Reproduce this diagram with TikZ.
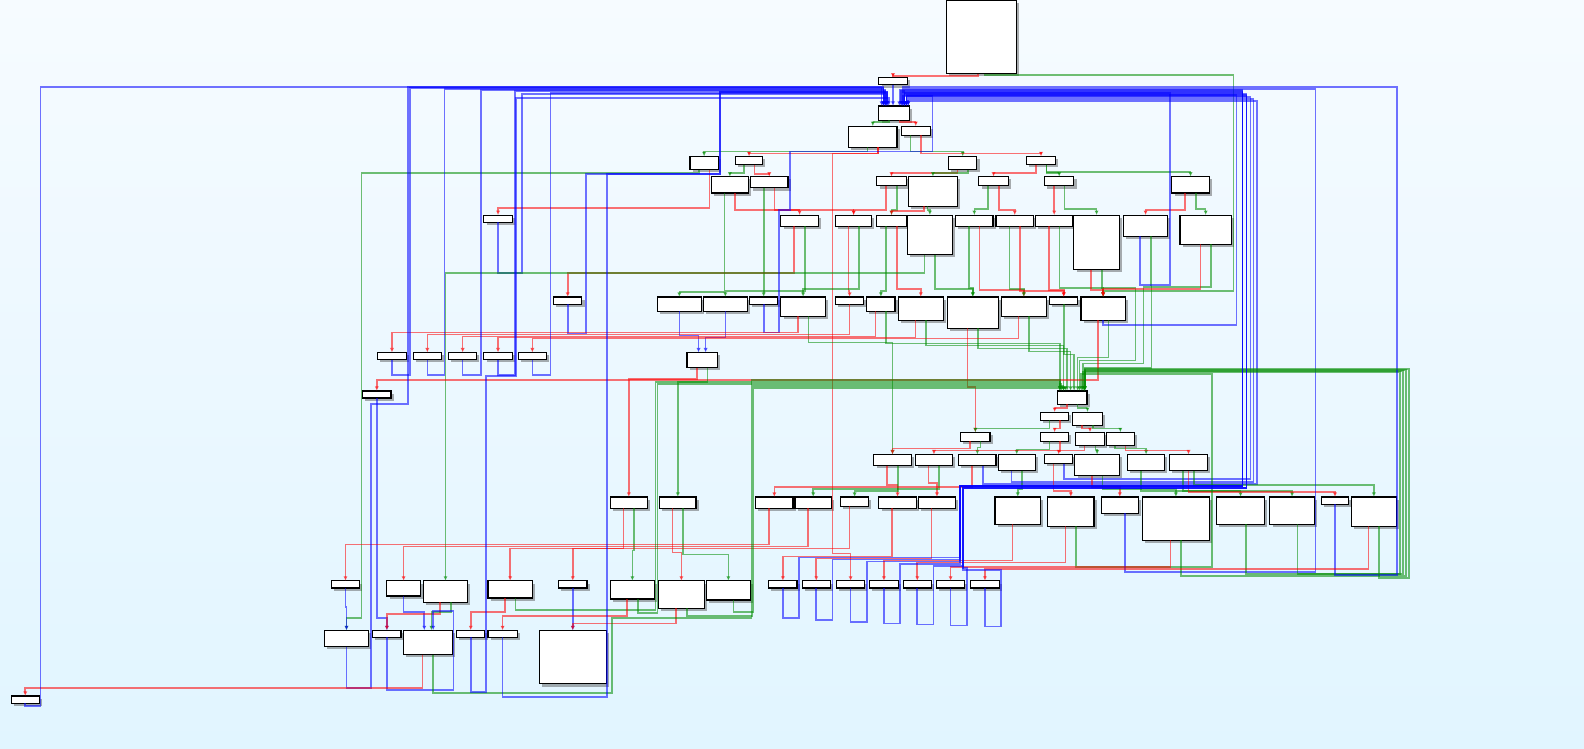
\documentclass[tikz,border=0pt]{standalone}
\usepackage{xcolor}
\usepackage{tikz}
\usetikzlibrary{arrows.meta,fit,shadows}

\definecolor{bgtop}{RGB}{246,251,255}
\definecolor{bgbot}{RGB}{225,245,255}
\definecolor{brfalse}{RGB}{255,0,0}
\definecolor{brtrue}{RGB}{0,140,0}
\definecolor{brjump}{RGB}{0,0,255}

\begin{document}
\begin{tikzpicture}[
    x=0.02cm, y=-0.02cm,
    blk/.style={
        draw,
        fill=white,
        line width=0.65pt,
        inner sep=0pt,
        outer sep=0pt,
        drop shadow={shadow xshift=1.5pt, shadow yshift=-1.5pt, opacity=0.45, fill=black!70}
    },
    br/.style={
        line width=0.9pt,
        opacity=0.55,
        -{Latex[length=2.6pt,width=2.4pt]}
    },
    tf/.style={br, draw=brfalse},
    tt/.style={br, draw=brtrue},
    tu/.style={br, draw=brjump}
]

\useasboundingbox (0,0) rectangle (1568,741);
\fill[top color=bgtop, bottom color=bgbot] (0,0) rectangle (1568,741);

%---------------------------------------------------------------------
% Blocks
%---------------------------------------------------------------------

\node[blk, fit={(937,0) (1006,73)}] (a0) {};
\node[blk, fit={(870,77) (898,84)}] (a1) {};
\node[blk, fit={(870,105) (900,119)}] (a2) {};
\node[blk, fit={(840,125) (888,146)}] (a3) {};
\node[blk, fit={(892,125) (921,134)}] (a4) {};

\node[blk, fit={(683,155) (711,168)}] (b1) {};
\node[blk, fit={(728,155) (755,163)}] (b2) {};
\node[blk, fit={(939,155) (967,168)}] (b3) {};
\node[blk, fit={(1016,155) (1045,163)}] (b4) {};

\node[blk, fit={(704,175) (741,191)}] (c1) {};
\node[blk, fit={(743,175) (780,186)}] (c2) {};
\node[blk, fit={(868,175) (897,184)}] (c3) {};
\node[blk, fit={(899,175) (948,204)}] (c4) {};
\node[blk, fit={(969,175) (998,184)}] (c5) {};
\node[blk, fit={(1034,175) (1063,184)}] (c6) {};
\node[blk, fit={(1160,175) (1197,191)}] (c7) {};

\node[blk, fit={(479,213) (507,220)}] (d1) {};
\node[blk, fit={(773,213) (810,224)}] (d2) {};
\node[blk, fit={(827,213) (863,224)}] (d3) {};
\node[blk, fit={(868,213) (897,224)}] (d4) {};
\node[blk, fit={(898,213) (943,252)}] (d5) {};
\node[blk, fit={(946,213) (983,224)}] (d6) {};
\node[blk, fit={(986,213) (1023,224)}] (d7) {};
\node[blk, fit={(1025,213) (1062,224)}] (d8) {};
\node[blk, fit={(1063,213) (1108,267)}] (d9) {};
\node[blk, fit={(1112,213) (1156,234)}] (d10) {};
\node[blk, fit={(1168,213) (1219,242)}] (d11) {};

\node[blk, fit={(548,294) (576,301)}] (e1) {};
\node[blk, fit={(651,294) (694,308)}] (e2) {};
\node[blk, fit={(696,294) (740,308)}] (e3) {};
\node[blk, fit={(742,294) (770,301)}] (e4) {};
\node[blk, fit={(773,294) (817,313)}] (e5) {};
\node[blk, fit={(827,294) (855,301)}] (e6) {};
\node[blk, fit={(858,294) (886,308)}] (e7) {};
\node[blk, fit={(889,294) (934,317)}] (e8) {};
\node[blk, fit={(938,294) (988,325)}] (e9) {};
\node[blk, fit={(991,294) (1036,313)}] (e10) {};
\node[blk, fit={(1039,294) (1067,301)}] (e11) {};
\node[blk, fit={(1070,294) (1114,317)}] (e12) {};

\node[blk, fit={(374,349) (402,356)}] (f1) {};
\node[blk, fit={(409,349) (437,356)}] (f2) {};
\node[blk, fit={(444,349) (472,356)}] (f3) {};
\node[blk, fit={(479,349) (507,356)}] (f4) {};
\node[blk, fit={(513,349) (541,356)}] (f5) {};
\node[blk, fit={(680,349) (710,364)}] (f6) {};
\node[blk, fit={(359,387) (387,394)}] (g1) {};

\node[blk, fit={(1047,387) (1076,400)}] (h1) {};
\node[blk, fit={(1030,408) (1058,416)}] (h2) {};
\node[blk, fit={(1062,408) (1091,421)}] (h3) {};
\node[blk, fit={(951,428) (980,437)}] (h4) {};
\node[blk, fit={(1030,428) (1058,437)}] (h5) {};
\node[blk, fit={(1065,428) (1093,441)}] (h6) {};
\node[blk, fit={(1095,428) (1123,441)}] (h7) {};

\node[blk, fit={(865,450) (902,461)}] (i1) {};
\node[blk, fit={(906,450) (943,461)}] (i2) {};
\node[blk, fit={(949,450) (986,461)}] (i3) {};
\node[blk, fit={(988,450) (1025,466)}] (i4) {};
\node[blk, fit={(1034,450) (1062,459)}] (i5) {};
\node[blk, fit={(1064,450) (1108,471)}] (i6) {};
\node[blk, fit={(1116,450) (1153,466)}] (i7) {};
\node[blk, fit={(1158,450) (1195,466)}] (i8) {};

\node[blk, fit={(604,492) (641,503)}] (j1) {};
\node[blk, fit={(653,492) (689,503)}] (j2) {};
\node[blk, fit={(748,492) (785,503)}] (j3) {};
\node[blk, fit={(787,492) (823,503)}] (j4) {};
\node[blk, fit={(832,492) (860,501)}] (j5) {};
\node[blk, fit={(870,492) (907,503)}] (j6) {};
\node[blk, fit={(909,492) (946,503)}] (j7) {};
\node[blk, fit={(985,492) (1030,519)}] (j8) {};
\node[blk, fit={(1037,492) (1083,521)}] (j9) {};
\node[blk, fit={(1090,492) (1127,508)}] (j10) {};
\node[blk, fit={(1131,492) (1197,535)}] (j11) {};
\node[blk, fit={(1204,492) (1252,519)}] (j12) {};
\node[blk, fit={(1257,492) (1301,519)}] (j13) {};
\node[blk, fit={(1308,492) (1335,499)}] (j14) {};
\node[blk, fit={(1338,492) (1382,521)}] (j15) {};

\node[blk, fit={(328,575) (356,582)}] (k1) {};
\node[blk, fit={(383,575) (416,590)}] (k2) {};
\node[blk, fit={(419,575) (463,596)}] (k3) {};
\node[blk, fit={(483,575) (527,592)}] (k4) {};
\node[blk, fit={(553,575) (581,582)}] (k5) {};
\node[blk, fit={(604,575) (648,593)}] (k6) {};
\node[blk, fit={(652,575) (697,602)}] (k7) {};
\node[blk, fit={(699,575) (743,594)}] (k8) {};
\node[blk, fit={(761,575) (789,582)}] (k9) {};
\node[blk, fit={(794,575) (822,582)}] (k10) {};
\node[blk, fit={(828,575) (856,582)}] (k11) {};
\node[blk, fit={(861,575) (889,582)}] (k12) {};
\node[blk, fit={(894,575) (922,582)}] (k13) {};
\node[blk, fit={(927,575) (955,582)}] (k14) {};
\node[blk, fit={(961,575) (989,582)}] (k15) {};

\node[blk, fit={(321,624) (365,640)}] (l1) {};
\node[blk, fit={(369,624) (397,631)}] (l2) {};
\node[blk, fit={(399,624) (448,648)}] (l3) {};
\node[blk, fit={(452,624) (480,631)}] (l4) {};
\node[blk, fit={(483,624) (512,631)}] (l5) {};
\node[blk, fit={(534,624) (600,677)}] (l6) {};
\node[blk, fit={(11,689) (39,696)}] (m1) {};

%---------------------------------------------------------------------
% Head of the loop
%---------------------------------------------------------------------

\draw[tf] ([xshift=-2pt]a0.south) -- ++(0,2) -| (a1.north);
\draw[tt] ([xshift=2pt]a0.south) -- ++(0,1) -| (1221,288) -| (e12.north);
\draw[tu] (a1.south) -- (a1.south |- a2.north);
\draw[tt] ([xshift=-3pt]a2.south) -- ++(0,2) -| (a3.north);
\draw[tf] ([xshift=3pt]a2.south) -- ++(0,2) -| (a4.north);
\draw[tt] ([xshift=-3pt]a3.south) -- ++(0,4) -| (b1.north);
\draw[tf] ([xshift=3pt]a3.south) -- ++(0,6) -| (b2.north);
\draw[tf] ([xshift=3pt]a3.south) -- ++(0,6) -| (824,548) -| (k11.north);
\draw[tt] ([xshift=-3pt]a4.south) -- ++(0,16) -| (b3.north);
\draw[tf] ([xshift=3pt]a4.south) -- ++(0,18) -| (b4.north);

\draw[tt] ([xshift=-3pt]b1.south) -- ++(0,3) -| (358,612) -| (l1.north);
\draw[tf] ([xshift=3pt]b1.south) -- ++(0,38) -| (d1.north);
\draw[tt] ([xshift=-3pt]b2.south) -- ++(0,8) -| (c1.north);
\draw[tf] ([xshift=3pt]b2.south) -- ++(0,9) -| (c2.north);
\draw[tf] ([xshift=-3pt]b3.south) -- ++(0,3) -| (c3.north);
\draw[tt] ([xshift=3pt]b3.south) -- ++(0,3) -| (c4.north);
\draw[tf] ([xshift=-3pt]b4.south) -- ++(0,8) -| (c5.north);
\draw[tt] ([xshift=3pt]b4.south) -- ++(0,8) -| (c6.north);
\draw[tt] ([xshift=3pt]b4.south) -- ++(0,7) -| (c7.north);

%---------------------------------------------------------------------
% Upper switch
%---------------------------------------------------------------------

\draw[tt] ([xshift=-3pt]c1.south) -- ++(0,98) -| (e2.north);
\draw[tf] ([xshift=3pt]c1.south) -- ++(0,17) -| (d2.north);
\draw[tf] ([xshift=3pt]c2.south) -- ++(0,22) -| (d3.north);
\draw[tt] ([xshift=-3pt]c2.south) -- ++(0,20) -| (e4.north);
\draw[tf] ([xshift=-3pt]c3.south) -- ++(0,24) -| (d3.north);
\draw[tt] ([xshift=3pt]c3.south) -- ++(0,24) -| (d4.north);
\draw[tt] ([xshift=-3pt]c4.south) -- ++(0,4) -| (d5.north);
\draw[tf] ([xshift=-5pt]c4.south) -- ++(0,5) -| (d4.north);
\draw[tt] ([xshift=-3pt]c5.south) -- ++(0,23) -| (d6.north);
\draw[tf] ([xshift=3pt]c5.south) -- ++(0,24) -| (d7.north);
\draw[tf] ([xshift=-3pt]c6.south) -- ++(0,23) -| (d8.north);
\draw[tt] ([xshift=3pt]c6.south) -- ++(0,23) -| (d9.north);
\draw[tf] ([xshift=-3pt]c7.south) -- ++(0,17) -| (d10.north);
\draw[tt] ([xshift=3pt]c7.south) -- ++(0,16) -| (d11.north);

\draw[tu] (d1.south) -- ++(0,50) -| (517,93) -| ([xshift=-5pt]a2.north);
\draw[tf] ([xshift=-3pt]d2.south) -- ++(0,46) -| (e1.north);
\draw[tt] ([xshift=3pt]d2.south) -- ++(0,64) -| (e3.north);
\draw[tf] ([xshift=-3pt]d3.south) -- ++(0,64) -| (e6.north);
\draw[tt] ([xshift=3pt]d3.south) -- ++(0,62) -| (e5.north);
\draw[tt] ([xshift=-3pt]d4.south) -- ++(0,64) -| (e7.north);
\draw[tf] ([xshift=3pt]d4.south) -- ++(0,62) -| (e8.north);
\draw[tt] ([xshift=3pt]d5.south) -- ++(0,34) -| (e9.north);
\draw[tt] ([xshift=-3pt]d5.south) -- ++(0,18) -| (k3.north);
\draw[tf] ([xshift=3pt]d6.south) -- ++(0,63) -| (e10.north);
\draw[tt] ([xshift=-3pt]d6.south) -- ++(0,61) -| (e9.north);
\draw[tt] ([xshift=-3pt]d7.south) -- ++(0,62) -| (e10.north);
\draw[tf] ([xshift=3pt]d7.south) -- ++(0,64) -| (e11.north);
\draw[tf] ([xshift=-3pt]d8.south) -- ++(0,63) -| (e11.north);
\draw[tt] ([xshift=3pt]d8.south) -- ++(0,61) -| (e12.north);
\draw[tf] ([xshift=-3pt]d9.south) -- ++(0,20) -| (e12.north);
\draw[tt] ([xshift=3pt]d9.south) -- ++(0,18) -| (1124,357) -| ([xshift=4pt]h1.north);
\draw[tt] ([xshift=3pt]d10.south) -- ++(0,50) -| (1132,360) -| ([xshift=6pt]h1.north);
\draw[tu] ([xshift=-3pt]d10.south) -- ++(0,48) -| (1158,92) -| ([xshift=6pt]a2.north);
\draw[tt] ([xshift=3pt]d11.south) -- ++(0,42) -| (1140,364) -| ([xshift=7pt]h1.north);
\draw[tf] ([xshift=-3pt]d11.south) -- ++(0,44) -| (e12.north);

%---------------------------------------------------------------------
% Middle row and the short loops on the left
%---------------------------------------------------------------------

\draw[tu] (e1.south) -- ++(0,29) -| (580,172) -| (713,91) -| ([xshift=-4pt]a2.north);
\draw[tu] (e2.south) -- ++(0,24) -| ([xshift=-2pt]f6.north);
\draw[tu] (e3.south) -- ++(0,26) -| ([xshift=2pt]f6.north);
\draw[tu] (e4.south) -- ++(0,28) -| (771,208) -| (782,150) -| (923,95) -| ([xshift=5pt]a2.north);
\draw[tf] ([xshift=-3pt]e5.south) -- ++(0,16) -| (f1.north);
\draw[tt] ([xshift=3pt]e5.south) -- ++(0,26) -| (i1.north);
\draw[tf] (e6.south) -- ++(0,30) -| (f2.north);
\draw[tf] ([xshift=-3pt]e7.south) -- ++(0,25) -| (f3.north);
\draw[tt] ([xshift=3pt]e7.south) -- ++(0,32) -| ([xshift=-7pt]h1.north);
\draw[tf] ([xshift=-3pt]e8.south) -- ++(0,17) -| (f4.north);
\draw[tt] ([xshift=3pt]e8.south) -- ++(0,25) -| ([xshift=-5pt]h1.north);
\draw[tt] ([xshift=3pt]e9.south) -- ++(0,20) -| ([xshift=-3pt]h1.north);
\draw[tf] ([xshift=-3pt]e9.south) -- ++(0,58) -| (h4.north);
\draw[tf] ([xshift=-3pt]e10.south) -- ++(0,22) -| (f5.north);
\draw[tt] ([xshift=3pt]e10.south) -- ++(0,35) -| ([xshift=-1pt]h1.north);
\draw[tt] (e11.south) -- ++(0,50) -| ([xshift=1pt]h1.north);
\draw[tf] ([xshift=-3pt]e12.south) -- ++(0,59) -| (g1.north);
\draw[tt] ([xshift=3pt]e12.south) -- ++(0,37) -| ([xshift=3pt]h1.north);
\draw[tu] (e12.south) -- ++(0,5) -| (1224,94) -| ([xshift=7pt]a2.north);

\draw[tu] (f1.south) -- ++(0,15) -| (406,87) -| ([xshift=-6pt]a2.north);
\draw[tu] (f2.south) -- ++(0,15) -| (440,88) -| ([xshift=-6pt]a2.north);
\draw[tu] (f3.south) -- ++(0,15) -| (476,89) -| ([xshift=-5pt]a2.north);
\draw[tu] (f4.south) -- ++(0,15) -| (510,90) -| ([xshift=-5pt]a2.north);
\draw[tu] (f5.south) -- ++(0,15) -| (545,92) -| ([xshift=-4pt]a2.north);
\draw[tf] ([xshift=-3pt]f6.south) -- ++(0,11) -| (j1.north);
\draw[tt] ([xshift=3pt]f6.south) -- ++(0,14) -| (j2.north);
\draw[tu] (g1.south) -- ++(0,218) -| (l2.north);

%---------------------------------------------------------------------
% Inner loop
%---------------------------------------------------------------------

\draw[tf] ([xshift=-3pt]h1.south) -- ++(0,4) -| (h2.north);
\draw[tt] ([xshift=3pt]h1.south) -- ++(0,4) -| (h3.north);
\draw[tt] ([xshift=-3pt]h2.south) -- ++(0,8) -| (h4.north);
\draw[tf] ([xshift=3pt]h2.south) -- ++(0,8) -| (h5.north);
\draw[tf] ([xshift=-3pt]h3.south) -- ++(0,3) -| (h6.north);
\draw[tt] ([xshift=3pt]h3.south) -- ++(0,3) -| (h7.north);
\draw[tf] ([xshift=-3pt]h4.south) -- ++(0,7) -| (i1.north);
\draw[tt] ([xshift=3pt]h4.south) -- ++(0,6) -| (i3.north);
\draw[tt] ([xshift=-3pt]h5.south) -- ++(0,8) -| (i4.north);
\draw[tf] ([xshift=3pt]h5.south) -- ++(0,10) -| (i5.north);
\draw[tf] ([xshift=-3pt]h6.south) -- ++(0,5) -| (i2.north);
\draw[tt] ([xshift=3pt]h6.south) -- ++(0,4) -| (i6.north);
\draw[tt] ([xshift=-3pt]h7.south) -- ++(0,3) -| (i7.north);
\draw[tf] ([xshift=3pt]h7.south) -- ++(0,5) -| (i8.north);

\draw[tf] ([xshift=-3pt]i1.south) -- ++(0,19) -| (j6.north);
\draw[tt] ([xshift=3pt]i1.south) -- ++(0,25) -| (j5.north);
\draw[tf] ([xshift=-3pt]i2.south) -- ++(0,17) -| (j7.north);
\draw[tt] ([xshift=3pt]i2.south) -- ++(0,23) -| (j4.north);
\draw[tf] ([xshift=-3pt]i3.south) -- ++(0,21) -| (j3.north);
\draw[tu] ([xshift=3pt]i3.south) -- ++(0,18) -| (1244,100) -| ([xshift=8pt]a2.north);
\draw[tt] ([xshift=3pt]i4.south) -- ++(0,18) -| (j8.north);
\draw[tu] ([xshift=-3pt]i4.south) -- ++(0,11) -| (1241,98) -| ([xshift=8pt]a2.north);
\draw[tf] ([xshift=-3pt]i5.south) -- ++(0,27) -| (j9.north);
\draw[tu] ([xshift=3pt]i5.south) -- ++(0,15) -| (1238,96) -| ([xshift=7pt]a2.north);
\draw[tf] ([xshift=-3pt]i6.south) -- ++(0,11) -| (j10.north);
\draw[tt] ([xshift=3pt]i6.south) -- ++(0,13) -| (j11.north);
\draw[tt] ([xshift=-3pt]i7.south) -- ++(0,20) -| (j12.north);
\draw[tt] ([xshift=-3pt]i8.south) -- ++(0,20) -| (j13.north);
\draw[tf] (i8.south) -- ++(0,21) -| (j14.north);
\draw[tt] ([xshift=3pt]i8.south) -- ++(0,14) -| (j15.north);

%---------------------------------------------------------------------
% Lower switch
%---------------------------------------------------------------------

\draw[tf] ([xshift=-3pt]j1.south) -- ++(0,40) -| (k5.north);
\draw[tt] ([xshift=3pt]j1.south) -- ++(0,42) -| (k6.north);
\draw[tf] ([xshift=-3pt]j2.south) -- ++(0,44) -| (k7.north);
\draw[tt] ([xshift=3pt]j2.south) -- ++(0,46) -| (k8.north);
\draw[tf] ([xshift=-3pt]j3.south) -- ++(0,36) -| (k1.north);
\draw[tf] ([xshift=-3pt]j4.south) -- ++(0,38) -| (k2.north);
\draw[tf] ([xshift=-3pt]j5.south) -- ++(0,42) -| (k4.north);
\draw[tf] ([xshift=-3pt]j6.south) -- ++(0,48) -| (k9.north);
\draw[tf] ([xshift=-3pt]j7.south) -- ++(0,50) -| (k10.north);
\draw[tf] ([xshift=-3pt]j8.south) -- ++(0,36) -| (k12.north);
\draw[tf] ([xshift=-3pt]j9.south) -- ++(0,36) -| (k13.north);
\draw[tt] ([xshift=3pt]j9.south) -- ++(0,40) -| (1200,370) -| ([xshift=5pt]h1.north);
\draw[tu] ([xshift=3pt]j10.south) -- ++(0,58) -| (1302,88) -| ([xshift=6pt]a2.north);
\draw[tf] ([xshift=-3pt]j11.south) -- ++(0,26) -| (k14.north);
\draw[tt] ([xshift=3pt]j11.south) -- ++(0,35) -| (1392,366) -| ([xshift=7pt]h1.north);
\draw[tt] ([xshift=3pt]j12.south) -- ++(0,49) -| (1389,367) -| ([xshift=7pt]h1.north);
\draw[tt] ([xshift=3pt]j13.south) -- ++(0,49) -| (1386,368) -| ([xshift=6pt]h1.north);
\draw[tu] (j14.south) -- ++(0,70) -| (1383,86) -| ([xshift=5pt]a2.north);
\draw[tf] ([xshift=-3pt]j15.south) -- ++(0,42) -| (k15.north);
\draw[tt] ([xshift=3pt]j15.south) -- ++(0,51) -| (1395,365) -| ([xshift=7pt]h1.north);

\draw[tu] (k1.south) -- ++(0,19) -| (l1.north);
\draw[tu] (k2.south) -- ++(0,16) -| ([xshift=-2pt]l3.north);
\draw[tf] ([xshift=-3pt]k3.south) -- ++(0,12) -| (l2.north);
\draw[tt] ([xshift=3pt]k3.south) -- ++(0,10) -| ([xshift=2pt]l3.north);
\draw[tf] ([xshift=-3pt]k4.south) -- ++(0,14) -| (l4.north);
\draw[tt] ([xshift=3pt]k4.south) -- ++(0,12) -| (649,378) -| ([xshift=-7pt]h1.north);
\draw[tu] (k5.south) -- (k5.south |- l6.north);
\draw[tf] ([xshift=-3pt]k6.south) -- ++(0,17) -| (l5.north);
\draw[tt] ([xshift=3pt]k6.south) -- ++(0,14) -| (651,380) -| ([xshift=-6pt]h1.north);
\draw[tf] ([xshift=-3pt]k7.south) -- ++(0,15) -| (l6.north);
\draw[tt] ([xshift=3pt]k7.south) -- ++(0,8) -| (745,382) -| ([xshift=-5pt]h1.north);
\draw[tt] ([xshift=3pt]k8.south) -- ++(0,12) -| (746,384) -| ([xshift=-4pt]h1.north);

% small loops back to the head
\draw[tu] (k9.south) -- ++(0,30) -| (791,552) -| (950,481) -| (1230,89) -| ([xshift=3pt]a2.north);
\draw[tu] (k10.south) -- ++(0,32) -| (824,554) -| (950,481) -| (1230,90) -| ([xshift=4pt]a2.north);
\draw[tu] (k11.south) -- ++(0,34) -| (858,556) -| (950,481) -| (1230,91) -| ([xshift=4pt]a2.north);
\draw[tu] (k12.south) -- ++(0,35) -| (891,558) -| (950,481) -| (1230,92) -| ([xshift=5pt]a2.north);
\draw[tu] (k13.south) -- ++(0,36) -| (924,560) -| (953,483) -| (1234,93) -| ([xshift=6pt]a2.north);
\draw[tu] (k14.south) -- ++(0,37) -| (957,562) -| (953,483) -| (1234,94) -| ([xshift=6pt]a2.north);
\draw[tu] (k15.south) -- ++(0,38) -| (991,564) -| (953,483) -| (1234,95) -| ([xshift=7pt]a2.north);

%---------------------------------------------------------------------
% Exit blocks
%---------------------------------------------------------------------

\draw[tu] (l1.south) -- ++(0,41) -| (367,400) -| (404,86) -| ([xshift=-6pt]a2.north);
\draw[tu] (l2.south) -- ++(0,52) -| (449,605) -| ([xshift=3pt]l3.north);
\draw[tf] ([xshift=-3pt]l3.south) -- ++(0,33) -| (m1.north);
\draw[tt] ([xshift=3pt]l3.south) -- ++(0,38) -| (606,612) -| (744,376) -| ([xshift=-7pt]h1.north);
\draw[tu] (l4.south) -- ++(0,54) -| (481,372) -| (511,97) -| ([xshift=-3pt]a2.north);
\draw[tu] (l5.south) -- ++(0,59) -| (601,172) -| (713,91) -| ([xshift=-4pt]a2.north);
\draw[tu] (m1.south) -- ++(0,3) -| (40,86) -| ([xshift=-7pt]a2.north);

\end{tikzpicture}
\end{document}
